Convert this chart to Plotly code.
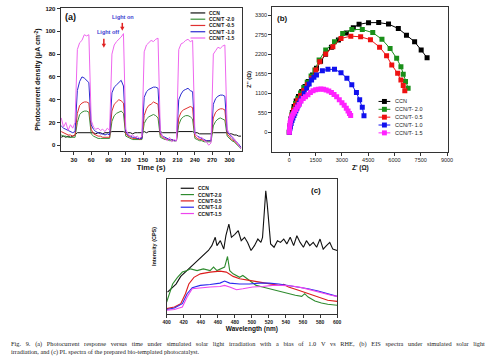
import plotly.graph_objects as go

W, H = 492, 363
def px(x): return x / W
def py(y): return 1 - y / H

# ---------------- (a) photocurrent vs time ----------------
time_s = [8, 12, 16, 20, 24, 28, 32, 36, 40, 44, 48, 52, 56,
          60, 64, 68, 72, 76, 80, 84, 88, 92, 96, 100, 104, 108, 112, 116,
          120, 124, 128, 132, 136, 140, 144, 148, 152, 156, 160, 164, 168, 172, 176,
          180, 184, 188, 192, 196, 200, 204, 208, 212, 216, 220, 224, 228, 232, 236,
          240, 244, 248, 252, 256, 260, 264, 268, 272, 276, 280, 284, 288, 292,
          296, 300, 304, 308, 312, 316, 320]
pc_ccn = [7, 8, 7, 8, 7, 8, 9, 11, 11, 11, 11, 11, 11,
          11, 11, 10, 11, 11, 10, 11, 11, 11, 12, 12, 12, 12, 12, 12,
          11, 11, 11, 10, 11, 11, 11, 11, 12, 11, 12, 12, 12, 12, 12,
          12, 11, 11, 11, 11, 11, 11, 11, 12, 12, 12, 12, 12, 12, 12,
          11, 11, 10, 10, 10, 10, 10, 10, 11, 11, 11, 11, 11, 11,
          11, 10, 10, 9, 9, 8, 8]
pc_t20 = [9, 8, 8, 7, 7, 7, 7, 20, 27, 29, 30, 30, 29,
          10, 8, 7, 6, 6, 6, 6, 6, 6, 21, 26, 28, 29, 30, 28,
          8, 7, 6, 5, 5, 5, 5, 5, 19, 23, 25, 26, 27, 26, 24,
          7, 6, 5, 5, 4, 4, 4, 4, 18, 23, 25, 26, 26, 25, 23,
          6, 5, 4, 4, 3, 3, 3, 3, 17, 21, 23, 24, 23, 22,
          8, 6, 4, 3, 1, -1, -3]
pc_t05 = [12, 11, 10, 9, 9, 8, 9, 28, 35, 37, 38, 38, 37,
          14, 10, 9, 8, 8, 7, 7, 7, 7, 30, 36, 38, 40, 39, 37,
          10, 8, 7, 6, 6, 6, 5, 6, 26, 32, 35, 36, 38, 37, 36,
          9, 7, 6, 5, 5, 5, 4, 4, 24, 29, 31, 32, 33, 34, 33,
          8, 6, 5, 5, 4, 4, 4, 4, 24, 29, 31, 32, 32, 31,
          10, 7, 5, 4, 2, 0, -2]
pc_t10 = [17, 15, 14, 13, 12, 11, 12, 48, 56, 60, 59, 57, 55,
          18, 14, 12, 11, 10, 10, 9, 10, 9, 46, 51, 53, 55, 57, 52,
          12, 9, 8, 7, 7, 6, 6, 6, 42, 47, 49, 50, 51, 51, 50,
          11, 8, 7, 6, 5, 5, 4, 4, 40, 45, 48, 49, 50, 48, 47,
          10, 8, 7, 6, 5, 4, 4, 4, 36, 41, 43, 44, 44, 43,
          12, 9, 7, 5, 3, 1, -2]
pc_t15 = [24, 16, 20, 13, 18, 15, 20, 84, 90, 92, 97, 96, 97,
          22, 16, 14, 15, 13, 14, 12, 15, 13, 80, 88, 91, 93, 95, 98,
          14, 10, 8, 9, 7, 8, 6, 8, 82, 88, 90, 92, 91, 93, 94,
          12, 8, 6, 4, 7, 3, 5, 4, 84, 89, 90, 92, 93, 91, 92,
          10, 8, 6, 7, 4, 3, 0, 2, 80, 83, 86, 85, 87, 88,
          14, 10, 8, 6, 3, 0, -3]

# ---------------- (b) EIS Nyquist ----------------
zre_ccn = [0, 30, 90, 170, 270, 390, 521, 706, 897, 1082, 1323, 1547, 1780, 2060, 2400,
           2800, 3250, 3650, 3979, 4520, 5100, 5660, 6220, 6685, 7150, 7525, 7862]
zim_ccn = [0, 180, 380, 560, 730, 880, 1009, 1150, 1290, 1430, 1617, 1803, 2000, 2200, 2400,
           2600, 2800, 2950, 3045, 3090, 3093, 3050, 2925, 2739, 2551, 2318, 2103]
zre_t20 = [0, 30, 80, 150, 240, 350, 480, 640, 820, 1020, 1240, 1457, 1698, 2073, 2576,
           3043, 3566, 4163, 4760, 5285, 5750, 6125, 6368, 6500, 6630, 6780]
zim_t20 = [0, 170, 340, 500, 660, 810, 960, 1110, 1260, 1410, 1590, 1757, 2038, 2318, 2551,
           2785, 2897, 2897, 2810, 2620, 2364, 2084, 1850, 1635, 1430, 1242]
zre_t05 = [0, 30, 80, 150, 240, 350, 480, 640, 820, 1030, 1267, 1513, 1737, 2073, 2483,
           2948, 3508, 4069, 4629, 5150, 5550, 5845, 6181, 6368, 6500, 6590]
zim_t05 = [0, 160, 320, 470, 620, 760, 900, 1040, 1180, 1340, 1522, 1757, 1990, 2206, 2411,
           2645, 2711, 2691, 2610, 2400, 2160, 1898, 1663, 1477, 1318, 1169]
zre_t10 = [0, 5, 15, 34, 60, 100, 150, 202, 260, 310, 370, 426, 490, 560, 630, 706, 850, 986,
           1130, 1267, 1400, 1547, 1885, 2203, 2576, 2948, 3284, 3564, 3828, 4013, 4163, 4259]
zim_t10 = [0, 50, 90, 121, 180, 250, 330, 401, 470, 540, 610, 681, 750, 820, 890, 962, 1100, 1242,
           1360, 1477, 1550, 1617, 1738, 1775, 1775, 1682, 1522, 1337, 1121, 916, 709, 468]
zre_t15 = [0, 8, 20, 40, 70, 110, 160, 220, 290, 370, 460, 560, 670, 790, 920, 1060, 1200,
           1350, 1500, 1650, 1800, 1950, 2100, 2250, 2400, 2550, 2700, 2850, 3000, 3130,
           3250, 3350, 3430, 3500]
zim_t15 = [0, 90, 180, 260, 330, 400, 460, 520, 580, 640, 710, 780, 880, 950, 1000, 1060, 1120,
           1170, 1200, 1215, 1220, 1215, 1195, 1165, 1120, 1065, 1000, 920, 830, 760,
           680, 600, 530, 470]

# ---------------- (c) PL spectra ----------------
wl_ccn = [401, 407, 411, 416.5, 422, 428, 434, 439.5, 445, 449, 453, 457, 459, 463, 467, 469.5,
          473, 476, 480, 484, 487.5, 491.4, 495, 499, 503, 507, 510.6, 512.5, 514.4, 516.3, 518,
          520, 522, 526, 530, 533.6, 537.4, 541, 545, 549, 552.8, 556.6, 560.5, 564, 568, 572,
          576, 580, 583.7, 587.5, 591.4, 595, 600]
pl_ccn = [16, 19.8, 22, 27.7, 30.9, 34.6, 38.3, 41.5, 44.4, 47, 50.6, 56.8, 50.6, 54.3, 48, 58,
          66.7, 56.8, 59, 61.7, 54.3, 56.8, 53, 47, 50.6, 55.5, 53, 56.8, 74, 91.4, 81.5,
          69, 51.9, 49.4, 54.3, 53, 55.5, 51.9, 56.8, 50.6, 58, 53, 49.4, 54.3, 50.6, 53,
          49.4, 55.5, 48, 50.6, 53, 48, 47]
wl_t20 = [400, 403, 407, 412.7, 418.4, 424, 428, 435.7, 443, 451, 455, 459, 464.5, 468, 471.4,
          474, 478, 482, 485.6, 489.4, 493, 497, 505, 512.5, 520, 528, 535.5, 543, 551, 558.5,
          562, 566, 574, 581.6, 589, 600]
pl_t20 = [8.6, 14.8, 22, 27, 30.9, 32, 33.3, 32, 33.3, 32, 34.6, 32, 33.3, 34.6, 42.5,
          32, 29.6, 28.4, 27, 28.4, 26.7, 24.7, 21, 19.8, 18.5, 17.3, 16, 14.8, 13.6, 12.8,
          14.8, 12.3, 9.4, 7.9, 6.9, 6.2]
wl_t05 = [400, 409, 416.5, 422, 426, 432, 439.5, 451, 462.6, 470, 478, 485.6, 497, 508.6, 520,
          531.7, 537.4, 543, 554.7, 566, 577.7, 589, 600]
pl_t05 = [3.7, 4.9, 7.4, 14.8, 22, 27, 29.6, 30.9, 31.6, 30.9, 27.7, 26, 24.7, 23.5, 22,
          21, 21.7, 19.8, 17.3, 14.8, 12.3, 9.9, 9.1]
wl_t10 = [400, 409, 418.4, 424, 430, 439.5, 451, 462.6, 468, 474, 485.6, 497, 508.6, 520, 531.7,
          543, 554.7, 566, 577.7, 589, 600]
pl_t10 = [3, 4.2, 7.4, 14.8, 19.3, 21, 21.7, 22.7, 24.2, 22.7, 22, 22, 22.7, 22.7, 22,
          21, 19.8, 18.5, 16.8, 14.8, 12.8]
wl_t15 = [400, 409, 418.4, 424, 430, 439.5, 451, 462.6, 468, 474, 482, 489.4, 501, 512.5, 524,
          535.5, 547, 558.5, 570, 581.6, 593, 600]
pl_t15 = [2.5, 3, 4.9, 12.3, 18.5, 19.3, 19.8, 20.2, 21, 19.8, 17.8, 18.5, 19.8, 20.2, 21,
          21, 20.5, 19.3, 17.3, 15.3, 13.6, 12.8]

names_a = ["CCN", "CCN/T -2.0", "CCN/T -0.5", "CCN/T -1.0", "CCN/T -1.5"]
names_b = ["CCN", "CCN/T- 2.0", "CCN/T- 0.5", "CCN/T- 1.0", "CCN/T- 1.5"]
names_c = ["CCN", "CCN/T-2.0", "CCN/T-0.5", "CCN/T-1.0", "CCN/T-1.5"]
cols_a = ["#111111", "#3a8f3a", "#e03030", "#2a2ad0", "#ee66ee"]
cols_b = ["#000000", "#1a8f1a", "#ee1111", "#1111ee", "#ff22ff"]
cols_c = ["#111111", "#2e8b2e", "#dd1c1c", "#2a2aee", "#ee44ee"]

fig = go.Figure()

series_a = [pc_ccn, pc_t20, pc_t05, pc_t10, pc_t15]
for ys, c, n in zip(series_a, cols_a, names_a):
    fig.add_trace(go.Scatter(x=time_s, y=ys, mode="lines", name=n, showlegend=False,
                             line=dict(color=c, width=1), xaxis="x", yaxis="y"))

series_b = [(zre_ccn, zim_ccn), (zre_t20, zim_t20), (zre_t05, zim_t05),
            (zre_t10, zim_t10), (zre_t15, zim_t15)]
for (xs, ys), c, n in zip(series_b, cols_b, names_b):
    fig.add_trace(go.Scatter(x=xs, y=ys, mode="lines+markers", name=n, showlegend=False,
                             line=dict(color=c, width=1),
                             marker=dict(symbol="square", size=5, color=c),
                             xaxis="x2", yaxis="y2"))

series_c = [(wl_ccn, pl_ccn), (wl_t20, pl_t20), (wl_t05, pl_t05),
            (wl_t10, pl_t10), (wl_t15, pl_t15)]
for (xs, ys), c, n in zip(series_c, cols_c, names_c):
    fig.add_trace(go.Scatter(x=xs, y=ys, mode="lines", name=n, showlegend=False,
                             line=dict(color=c, width=1.1), xaxis="x3", yaxis="y3"))

AR = "Arial, Liberation Sans, sans-serif"
tf = dict(family=AR, size=6, color="#111", weight="bold")

common = dict(showgrid=False, zeroline=False, showline=True, mirror=True,
              linecolor="#333", linewidth=1, ticks="outside", ticklen=3,
              tickcolor="#333", tickwidth=1)

fig.update_layout(
    width=W, height=H, margin=dict(l=0, r=0, t=0, b=0),
    paper_bgcolor="white", plot_bgcolor="white", showlegend=False,
    xaxis=dict(domain=[px(57.7), px(242)], range=[7, 321], tickvals=[30, 60, 90, 120, 150, 180, 210, 240, 270, 300],
               tickfont=tf, anchor="y",
               title=dict(text="<b>Time (s)</b>", font=dict(family=AR, size=7.5, color="#111"), standoff=2), **common),
    yaxis=dict(domain=[py(150), py(6)], range=[-5.2, 120.5], tickvals=[0, 20, 40, 60, 80, 100, 120],
               tickfont=tf, anchor="x",
               title=dict(text="<b>Photocurrent density (μA cm<sup>-2</sup>)</b>",
                          font=dict(family=AR, size=7, color="#111"), standoff=3), **common),
    xaxis2=dict(domain=[px(273.3), px(452.7)], range=[-975, 9080],
                tickvals=[0, 1500, 3000, 4500, 6000, 7500, 9000],
                tickfont=dict(family=AR, size=5.5, color="#222"), anchor="y2",
                title=dict(text="<b>Z' (Ω)</b>", font=dict(family=AR, size=6.5, color="#111"), standoff=2), **common),
    yaxis2=dict(domain=[py(150.7), py(5)], range=[-552, 3533],
                tickvals=[0, 550, 1100, 1650, 2200, 2750, 3300],
                tickfont=dict(family=AR, size=5.5, color="#222"), anchor="x2",
                title=dict(text="<b>Z'' (Ω)</b>", font=dict(family=AR, size=6, color="#111"), standoff=2), **common),
    xaxis3=dict(domain=[px(165.7), px(339.3)], range=[400, 600],
                tickvals=[400, 420, 440, 460, 480, 500, 520, 540, 560, 580, 600],
                tickfont=dict(family=AR, size=5, color="#222", weight="bold"), anchor="y3",
                title=dict(text="<b>Wavelength (nm)</b>", font=dict(family=AR, size=6.5, color="#111"), standoff=2),
                **common),
    yaxis3=dict(domain=[py(313.3), py(178.3)], range=[0, 100], showticklabels=False,
                anchor="x3",
                title=dict(text="<b>Intensity (CPS)</b>", font=dict(family=AR, size=5.5, color="#111"), standoff=8),
                **{**common, "ticks": ""}),
)

ann = []
shapes = []

def label(text, x, y, size, color="#111", xa="center", family=AR):
    ann.append(dict(text=text, x=px(x), y=py(y), xref="paper", yref="paper",
                    xanchor=xa, yanchor="middle", showarrow=False,
                    font=dict(family=family, size=size, color=color)))

# panel labels
label("<b>(a)</b>", 60, 15, 9, xa="left")
label("<b>(b)</b>", 276, 17, 8, xa="left")
label("<b>(c)</b>", 318, 190, 8)

# light on / off
label("<b>Light off</b>", 106, 30, 5.5, color="#3b3bd0")
label("<b>Light on</b>", 121, 15.5, 5.5, color="#3b3bd0")
for (ax_, ay0, ay1) in [(101.7, 37, 46), (120.5, 21, 29)]:
    shapes.append(dict(type="line", xref="paper", yref="paper", x0=px(ax_), x1=px(ax_),
                       y0=py(ay0), y1=py(ay1 - 3), line=dict(color="#e02020", width=1.5)))
    shapes.append(dict(type="path", xref="paper", yref="paper",
                       path="M %f %f L %f %f L %f %f Z" % (px(ax_ - 2.2), py(ay1 - 4), px(ax_ + 2.2), py(ay1 - 4),
                                                       px(ax_), py(ay1)),
                       fillcolor="#e02020", line=dict(width=0)))

# legend (a)
for i, (n, c) in enumerate(zip(names_a, cols_a)):
    yy = 11 + i * 6.3
    shapes.append(dict(type="line", xref="paper", yref="paper", x0=px(190), x1=px(205),
                       y0=py(yy), y1=py(yy), line=dict(color=c, width=1.2)))
    label("<b>" + n + "</b>", 207, yy, 5, xa="left")

# legend (b)
for i, (n, c) in enumerate(zip(names_b, cols_b)):
    yy = 100 + i * 7.9
    shapes.append(dict(type="line", xref="paper", yref="paper", x0=px(381.5), x1=px(393.5),
                       y0=py(yy), y1=py(yy), line=dict(color=c, width=1)))
    shapes.append(dict(type="rect", xref="paper", yref="paper", x0=px(385), x1=px(390),
                       y0=py(yy + 2.5), y1=py(yy - 2.5), fillcolor=c, line=dict(width=0)))
    label(n, 396.5, yy, 5.5, color="#222", xa="left")

# legend (c)
for i, (n, c) in enumerate(zip(names_c, cols_c)):
    yy = 187.3 + i * 6.35
    shapes.append(dict(type="line", xref="paper", yref="paper", x0=px(180), x1=px(193.5),
                       y0=py(yy), y1=py(yy), line=dict(color=c, width=1.2)))
    label("<b>" + n + "</b>", 196, yy, 5, xa="left")

# caption (first line justified by widened word gaps)
SER = "Liberation Serif, DejaVu Serif, serif"
cap1 = ("Fig. 9. (a) Photocurrent response versus time under simulated solar light irradiation with a bias "
        "of 1.0 V vs RHE, (b) EIS spectra under simulated solar light")
cap2 = "irradiation, and (c) PL spectra of the prepared bio-templated photocatalyst."
label(cap1.replace(" ", " \u00a0\u00a0"), 5, 344, 6.3, color="#222", xa="left", family=SER)
label(cap2, 5, 351.5, 6.3, color="#222", xa="left", family=SER)

fig.update_layout(annotations=ann, shapes=shapes)
fig.write_html("out.html", config={"displayModeBar": False},
               post_script="document.body.style.margin='0';document.body.style.overflow='hidden';")
